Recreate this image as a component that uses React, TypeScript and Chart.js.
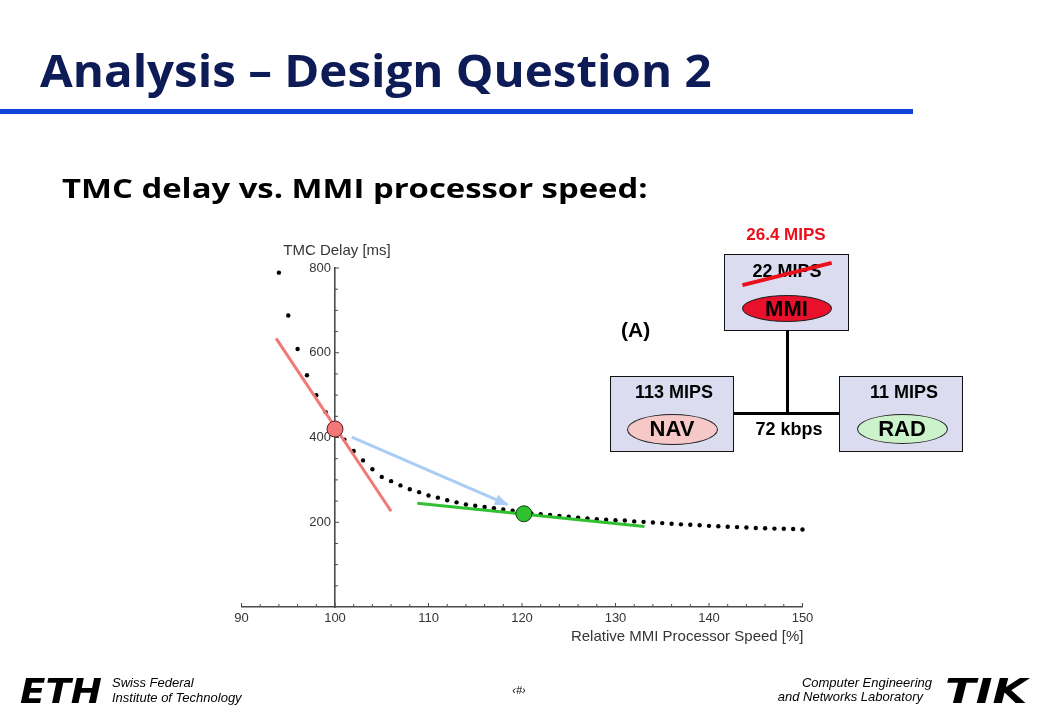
import React, { useEffect, useLayoutEffect, useRef, useState } from 'react';
import { Chart, registerables } from 'chart.js';

Chart.register(...registerables);

// ---------- data ----------
const speedPercent = [
  94, 95, 96, 97, 98, 99, 100, 101, 102, 103, 104, 105, 106, 107, 108, 109,
  110, 111, 112, 113, 114, 115, 116, 117, 118, 119, 120, 121, 122, 123, 124,
  125, 126, 127, 128, 129, 130, 131, 132, 133, 134, 135, 136, 137, 138, 139,
  140, 141, 142, 143, 144, 145, 146, 147, 148, 149, 150,
];
const delayMs = [
  789, 688, 609, 547, 500, 460, 425, 395, 368, 346, 325, 307, 297, 287, 278, 271,
  263, 258, 252, 247, 242, 239, 236, 233, 230, 227, 224, 221, 219, 217, 215,
  213, 211, 209, 207, 206, 205, 204, 202, 201, 199.5, 198, 196.5, 195, 194, 193,
  191.5, 190.5, 189.5, 188.5, 187.5, 186.5, 186, 185, 184.5, 184, 183,
];
const redTangentX = [93.7, 106.0];
const redTangentY = [634, 226];
const greenTangentX = [108.8, 133.1];
const greenTangentY = [245, 190];
const arrowX = [101.8, 118.4];
const arrowY = [401, 242];
const redMarkerX = [100];
const redMarkerY = [420];
const greenMarkerX = [120.2];
const greenMarkerY = [220];
const xTickStep = 10;
const yTickStep = 200;
const xAxisTitle = 'Relative MMI Processor Speed [%]';
const yAxisTitle = 'TMC Delay [ms]';

const toPoints = (xs: number[], ys: number[]) => xs.map((x, i) => ({ x, y: ys[i] }));

const AXIS_COLOR = '#4a4a4a';
const TEXT_COLOR = '#353535';
const AXIS_FONT = "'Liberation Sans', Arial, sans-serif";

const decorPlugin = {
  id: 'decor',
  beforeDatasetsDraw(chart: any) {
    const { ctx } = chart;
    const xs = chart.scales.x;
    const ys = chart.scales.y;
    const x0 = xs.getPixelForValue(100);
    const y0 = ys.getPixelForValue(0);
    ctx.save();
    ctx.strokeStyle = AXIS_COLOR;
    ctx.lineWidth = 1;
    for (let v = 90; v <= 150; v += 2) {
      const px = xs.getPixelForValue(v);
      const len = v % 10 === 0 ? 4 : 3;
      ctx.beginPath();
      ctx.moveTo(px, y0);
      ctx.lineTo(px, y0 - len);
      ctx.stroke();
    }
    for (let v = 50; v <= 800; v += 50) {
      const py = ys.getPixelForValue(v);
      const len = v % 200 === 0 ? 4 : 3;
      ctx.beginPath();
      ctx.moveTo(x0, py);
      ctx.lineTo(x0 + len, py);
      ctx.stroke();
    }
    // y tick labels, taken from the scale's own ticks
    ctx.fillStyle = TEXT_COLOR;
    ctx.font = `13px ${AXIS_FONT}`;
    ctx.textAlign = 'right';
    ctx.textBaseline = 'middle';
    for (const t of ys.ticks) {
      if (t.value === 0) continue;
      ctx.fillText(String(t.value), x0 - 4, ys.getPixelForValue(t.value));
    }
    ctx.restore();
  },
  afterDatasetsDraw(chart: any) {
    const { ctx } = chart;
    const meta = chart.getDatasetMeta(3);
    const pts = meta.data;
    if (!pts || pts.length < 2) return;
    const a = pts[0];
    const b = pts[pts.length - 1];
    const ang = Math.atan2(b.y - a.y, b.x - a.x);
    const L = 12;
    const W = 5.5;
    ctx.save();
    ctx.fillStyle = '#a9cdf4';
    ctx.beginPath();
    ctx.moveTo(b.x + Math.cos(ang) * 2, b.y + Math.sin(ang) * 2);
    ctx.lineTo(b.x - Math.cos(ang) * L + Math.sin(ang) * W, b.y - Math.sin(ang) * L - Math.cos(ang) * W);
    ctx.lineTo(b.x - Math.cos(ang) * L - Math.sin(ang) * W, b.y - Math.sin(ang) * L + Math.cos(ang) * W);
    ctx.closePath();
    ctx.fill();
    ctx.restore();
  },
  afterDraw(chart: any) {
    const { ctx, chartArea } = chart;
    const xs = chart.scales.x;
    const ys = chart.scales.y;
    ctx.save();
    ctx.fillStyle = TEXT_COLOR;
    ctx.font = `15px ${AXIS_FONT}`;
    ctx.textBaseline = 'alphabetic';
    ctx.textAlign = 'center';
    ctx.fillText(chart.options.scales.y.title.text, xs.getPixelForValue(100) + 2, chartArea.top - 13);
    ctx.textAlign = 'right';
    ctx.fillText(chart.options.scales.x.title.text, xs.getPixelForValue(150) + 1, ys.getPixelForValue(0) + 34);
    ctx.restore();
  },
};

function ChartCanvas() {
  const ref = useRef<HTMLCanvasElement>(null);
  useEffect(() => {
    if (!ref.current) return;
    const tickFont = { family: AXIS_FONT, size: 13 };
    const chart = new Chart(ref.current, {
      type: 'scatter',
      data: {
        datasets: [
          {
            label: 'red marker',
            data: toPoints(redMarkerX, redMarkerY),
            pointRadius: 8,
            pointBackgroundColor: '#f27878',
            pointBorderColor: '#5a2020',
            pointBorderWidth: 1,
            order: 0,
          } as any,
          {
            label: 'green marker',
            data: toPoints(greenMarkerX, greenMarkerY),
            pointRadius: 8,
            pointBackgroundColor: '#2ec22e',
            pointBorderColor: '#1a3a1a',
            pointBorderWidth: 1,
            order: 1,
          },
          {
            label: 'red tangent',
            data: toPoints(redTangentX, redTangentY),
            showLine: true,
            borderColor: '#f07878',
            borderWidth: 3,
            pointRadius: 0,
            order: 2,
          },
          {
            label: 'arrow',
            data: toPoints(arrowX, arrowY),
            showLine: true,
            borderColor: '#a9cdf4',
            borderWidth: 3,
            pointRadius: 0,
            order: 3,
          },
          {
            label: 'green tangent',
            data: toPoints(greenTangentX, greenTangentY),
            showLine: true,
            borderColor: '#30c030',
            borderWidth: 3,
            pointRadius: 0,
            order: 4,
          },
          {
            label: 'TMC delay',
            data: toPoints(speedPercent, delayMs),
            pointRadius: 2.2,
            pointBackgroundColor: '#000',
            pointBorderWidth: 0,
            order: 5,
          },
        ],
      },
      options: {
        responsive: false,
        animation: false,
        events: [],
        clip: false as any,
        layout: { padding: { left: 241.5, right: 237.5, top: 268, bottom: 113 } },
        plugins: { legend: { display: false }, tooltip: { enabled: false } },
        scales: {
          x: {
            type: 'linear',
            position: { y: 0 } as any,
            min: 90,
            max: 150,
            ticks: { stepSize: xTickStep, padding: 4, color: TEXT_COLOR, font: tickFont, autoSkip: false, maxRotation: 0 },
            grid: { display: true, drawOnChartArea: false, drawTicks: false },
            border: { display: true, color: AXIS_COLOR, width: 1.6 },
            title: { display: false, text: xAxisTitle },
          },
          y: {
            type: 'linear',
            position: { x: 100 } as any,
            min: 0,
            max: 800,
            ticks: {
              display: false,
              stepSize: yTickStep,
              color: TEXT_COLOR,
              font: tickFont,
            },
            grid: { display: true, drawOnChartArea: false, drawTicks: false },
            border: { display: true, color: AXIS_COLOR, width: 1.6 },
            title: { display: false, text: yAxisTitle },
          },
        },
      },
      plugins: [decorPlugin],
    });
    return () => chart.destroy();
  }, []);
  return (
    <canvas
      ref={ref}
      width={1040}
      height={720}
      style={{ position: 'absolute', left: 0, top: 0, width: 1040, height: 720 }}
    />
  );
}

// ---------- text helpers ----------
type Anchor = 'start' | 'middle' | 'end';
const LIB = "'Liberation Sans', Arial, sans-serif";
const OPEN = "'Open Sans', 'DejaVu Sans', sans-serif";

function Txt(props: {
  x: number; y: number; size: number; text: string; anchor?: Anchor; bold?: boolean;
  italic?: boolean; color?: string; family?: string; k?: number;
}) {
  const { x, y, size, text, anchor = 'start', bold, italic, color = '#000', family = LIB, k = 0.8465 } = props;
  const top = y - k * size;
  const base: React.CSSProperties = {
    position: 'absolute', top, fontSize: size, lineHeight: `${size}px`, fontFamily: family,
    fontWeight: bold ? 700 : 400, fontStyle: italic ? 'italic' : 'normal', color, whiteSpace: 'nowrap',
  };
  if (anchor === 'middle') return <div style={{ ...base, left: x - 300, width: 600, textAlign: 'center' }}>{text}</div>;
  if (anchor === 'end') return <div style={{ ...base, right: 1040 - x, textAlign: 'right' }}>{text}</div>;
  return <div style={{ ...base, left: x }}>{text}</div>;
}

function FitText(props: {
  x: number; y: number; width: number; size: number; text: string; color?: string;
  family?: string; k?: number; weight?: number; italic?: boolean;
}) {
  const { x, y, width, size, text, color = '#000', family = OPEN, k = 0.888, weight = 700, italic } = props;
  const ref = useRef<HTMLSpanElement>(null);
  const [sx, setSx] = useState(1);
  useLayoutEffect(() => {
    if (ref.current) {
      const w = ref.current.offsetWidth;
      if (w > 0) setSx(width / w);
    }
  }, [text, width, size]);
  return (
    <span
      ref={ref}
      style={{
        position: 'absolute', left: x, top: y - k * size, fontSize: size, lineHeight: `${size}px`,
        fontFamily: family, fontWeight: weight, fontStyle: italic ? 'italic' : 'normal', color,
        whiteSpace: 'nowrap', display: 'inline-block', transform: `scaleX(${sx})`, transformOrigin: 'left top',
      }}
    >
      {text}
    </span>
  );
}

function Box(props: { l: number; t: number; r: number; b: number }) {
  return (
    <div style={{
      position: 'absolute', left: props.l, top: props.t, width: props.r - props.l, height: props.b - props.t,
      background: '#dcdcf0', border: '1.5px solid #111', boxSizing: 'border-box',
    }} />
  );
}

function Ellipse(props: { cx: number; cy: number; w: number; h: number; fill: string; label: string }) {
  const { cx, cy, w, h, fill, label } = props;
  return (
    <>
      <div style={{
        position: 'absolute', left: cx - w / 2, top: cy - h / 2, width: w, height: h, borderRadius: '50%',
        background: fill, border: '1px solid #222', boxSizing: 'border-box',
      }} />
      <Txt x={cx} y={cy + 8} size={22} text={label} anchor="middle" bold />
    </>
  );
}

export default function App() {
  return (
    <div style={{ position: 'absolute', left: 0, top: 0, width: 1040, height: 720, background: '#fff', overflow: 'hidden' }}>
      <ChartCanvas />
      {/* title */}
      <FitText x={40} y={87} width={672} size={45} text="Analysis – Design Question 2" color="#0d1b57" />
      <div style={{ position: 'absolute', left: 0, top: 109, width: 913, height: 5, background: '#1043d8' }} />
      <FitText x={62} y={198} width={586} size={26} text="TMC delay vs. MMI processor speed:" color="#000" />

      {/* diagram */}
      <Txt x={786} y={240} size={17} text="26.4 MIPS" anchor="middle" bold color="#e8101a" />
      <Box l={724} t={254} r={849} b={331} />
      <Txt x={787} y={277} size={18} text="22 MIPS" anchor="middle" bold />
      <div style={{
        position: 'absolute', left: 741, top: 272, width: 92, height: 3.5, background: '#e8101a',
        transform: 'rotate(-14deg)', transformOrigin: 'center',
      }} />
      <Ellipse cx={786.5} cy={308.5} w={90} h={27} fill="#e8102a" label="MMI" />
      <Txt x={621} y={337} size={21} text="(A)" bold />

      <div style={{ position: 'absolute', left: 785.5, top: 330, width: 3, height: 84, background: '#000' }} />
      <div style={{ position: 'absolute', left: 733, top: 411.5, width: 106, height: 3, background: '#000' }} />

      <Box l={610} t={376} r={734} b={452} />
      <Txt x={674} y={398} size={18} text="113 MIPS" anchor="middle" bold />
      <Ellipse cx={672} cy={429} w={91} h={31} fill="#f7c8c8" label="NAV" />

      <Box l={839} t={376} r={963} b={452} />
      <Txt x={904} y={398} size={18} text="11 MIPS" anchor="middle" bold />
      <Ellipse cx={902} cy={428.5} w={91} h={30} fill="#ccf2cc" label="RAD" />

      <Txt x={789} y={435} size={18} text="72 kbps" anchor="middle" bold />

      {/* footer */}
      <FitText x={20} y={703} width={82} size={34} text="ETH" family="'DejaVu Sans', sans-serif" k={0.846} weight={900} italic color="#000" />
      <Txt x={112} y={687} size={13} text="Swiss Federal" italic />
      <Txt x={112} y={702} size={13} text="Institute of Technology" italic />
      <Txt x={519} y={694} size={11} text="‹#›" anchor="middle" italic />
      <Txt x={932} y={687} size={13} text="Computer Engineering" anchor="end" italic />
      <Txt x={923} y={701} size={13} text="and Networks Laboratory" anchor="end" italic />
      <FitText x={945} y={703} width={82} size={34} text="TIK" family="'DejaVu Sans', sans-serif" k={0.846} weight={900} italic color="#000" />
    </div>
  );
}
